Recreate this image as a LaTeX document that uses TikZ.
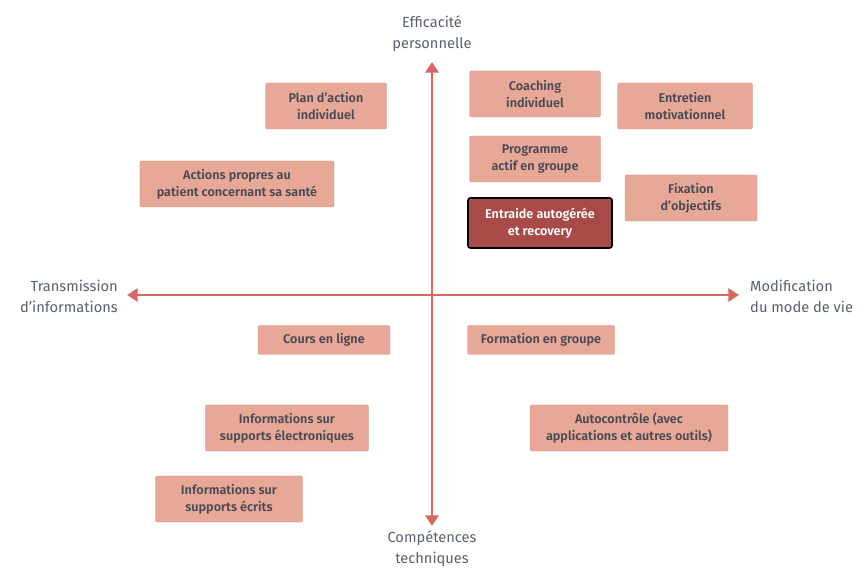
\documentclass[tikz,border=0pt]{standalone}
\usepackage{fontspec}
\setmainfont{Fira Sans}[BoldFont={Fira Sans SemiBold}]
\usepackage{tikz}
\usetikzlibrary{arrows.meta}
\definecolor{boxfill}{HTML}{E8A897}
\definecolor{boxtext}{HTML}{4A4A55}
\definecolor{axisred}{HTML}{D9675D}
\definecolor{hilite}{HTML}{A84A47}
\definecolor{labelgray}{HTML}{5A6070}
\begin{document}
\begin{tikzpicture}[
    x=0.03cm, y=-0.03cm,
    item/.style={fill=boxfill, draw=boxfill!90!black, line width=0.2pt, rounded corners=1pt, minimum height=1.38cm, align=center, font=\fontsize{10.8}{14.5}\selectfont\bfseries, text=boxtext, inner sep=2pt},
    single/.style={minimum height=0.87cm},
    focus/.style={fill=hilite, draw=black, line width=1.4pt, rounded corners=2pt, text=white},
    axislabel/.style={font=\fontsize{12.5}{18}\selectfont, text=labelgray, align=center, inner sep=0pt},
    axis/.style={line width=2.2pt, axisred, {Triangle[length=9pt,width=11pt]}-{Triangle[length=9pt,width=11pt]}}
]
\useasboundingbox (0,0) rectangle (865,570);

% axes
\coordinate (top) at (432,62);
\coordinate (bottom) at (432,526);
\coordinate (left) at (127,295);
\coordinate (right) at (739,295);
\draw[axis] (top) -- (bottom);
\draw[axis] (left) -- (right);

\node[axislabel] (eff) at (432,34) {Efficacité\\personnelle};
\node[axislabel] (comp) at (432,549) {Compétences\\techniques};
\node[axislabel, anchor=east, align=right] (trans) at (118,296) {Transmission\\d’informations};
\node[axislabel, anchor=west, align=left] (modif) at (750,296) {Modification\\du mode de vie};

% upper half
\node[item, minimum width=3.63cm] (plan) at (326,106) {Plan d’action\\individuel};
\node[item, minimum width=3.93cm] (coach) at (535,94) {Coaching\\individuel};
\node[item, minimum width=4.05cm] (entretien) at (685,106) {Entretien\\motivationnel};
\node[item, minimum width=5.82cm] (actions) at (237,184) {Actions propres au\\patient concernant sa santé};
\node[item, minimum width=3.93cm] (prog) at (535,159) {Programme\\actif en groupe};
\node[item, minimum width=3.96cm] (fix) at (691,198) {Fixation\\d’objectifs};
\node[item, focus, minimum width=4.32cm, minimum height=1.5cm] (entraide) at (540,223) {Entraide autogérée\\et recovery};

% lower half
\node[item, single, minimum width=3.96cm] (cours) at (324,340) {Cours en ligne};
\node[item, single, minimum width=4.41cm] (form) at (541,340) {Formation en groupe};
\node[item, minimum width=4.89cm] (elec) at (287,428) {Informations sur\\supports électroniques};
\node[item, minimum width=5.94cm] (auto) at (629,428) {Autocontrôle (avec\\applications et autres outils)};
\node[item, minimum width=4.41cm] (ecrits) at (229,499) {Informations sur\\supports écrits};
\end{tikzpicture}
\end{document}
